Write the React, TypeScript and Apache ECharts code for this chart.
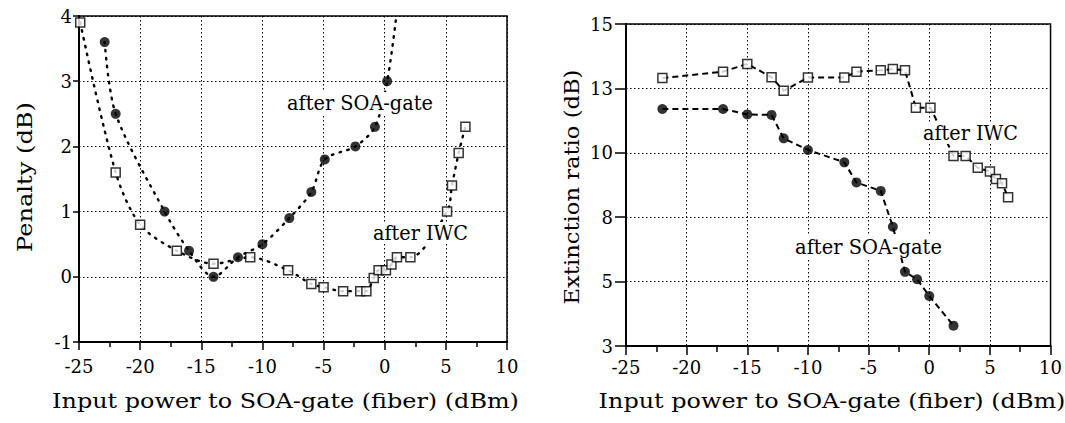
import React, { useEffect, useRef } from "react";
import * as echarts from "echarts";

// ---------- Data ----------
// Left panel: Penalty (dB) vs input power (dBm)
const penSoaX = [-22.9, -22, -18, -16, -14, -12, -10, -7.8, -6, -4.9, -2.4, -0.8, 0.2];
const penSoaY = [3.6, 2.5, 1.0, 0.4, 0.0, 0.3, 0.5, 0.9, 1.3, 1.8, 2.0, 2.3, 3.0];
// dotted fit curve continues past the last point up to the top of the frame
const penSoaTailX = [0.95];
const penSoaTailY = [4.0];

const penIwcX = [-24.9, -22, -20, -17, -14, -11, -7.9, -6, -5, -3.4, -2, -1.5, -0.9, -0.5, 0.1, 0.55, 1.0, 2.1, 5.1, 5.5, 6.05, 6.6];
const penIwcY = [3.9, 1.6, 0.8, 0.4, 0.2, 0.3, 0.1, -0.11, -0.16, -0.22, -0.22, -0.22, -0.02, 0.1, 0.1, 0.19, 0.3, 0.3, 1.0, 1.4, 1.9, 2.3];

// Right panel: Extinction ratio (dB) vs input power (dBm)
const erIwcX = [-22, -17, -15, -13, -12, -10, -7, -6, -4, -3, -2, -1.1, 0.1, 2, 3, 4, 5, 5.5, 6, 6.5];
const erIwcY = [12.9, 13.15, 13.45, 12.93, 12.41, 12.92, 12.92, 13.15, 13.2, 13.25, 13.2, 11.75, 11.75, 9.88, 9.88, 9.42, 9.27, 8.98, 8.82, 8.27];

const erSoaX = [-22, -17, -15, -13, -12, -10, -7, -6, -4, -3, -2, -1, 0, 2];
const erSoaY = [11.7, 11.7, 11.49, 11.47, 10.56, 10.11, 9.63, 8.85, 8.52, 7.13, 5.38, 5.09, 4.44, 3.29];

// Axis settings
const xMin = -25;
const xMax = 10;
const xStep = 5;
const penMin = -1;
const penMax = 4;
const penStep = 1;
const erMin = 2.5;
const erMax = 15;
const erStep = 2.5;

// Texts
const xTitle = "Input power to SOA-gate (fiber) (dBm)";
const penTitle = "Penalty (dB)";
const erTitle = "Extinction ratio (dB)";
const labSoa = "after SOA-gate";
const labIwc = "after IWC";

const FONT = '"DejaVu Serif", serif';

function zip(xs: number[], ys: number[]) {
  return xs.map((x, i) => [x, ys[i]]);
}

function measure(text: string, size: number): number {
  const c = document.createElement("canvas").getContext("2d");
  if (!c) return text.length * size * 0.6;
  c.font = `${size}px "DejaVu Serif"`;
  return c.measureText(text).width;
}

function textEl(
  text: string,
  cx: number,
  cy: number,
  targetW: number,
  size: number,
  opts: { rotate?: boolean; bg?: boolean } = {}
) {
  const w = measure(text, size);
  return {
    type: "text",
    x: cx,
    y: cy,
    z: 100,
    rotation: opts.rotate ? Math.PI / 2 : 0,
    scaleX: targetW / w,
    scaleY: 1,
    style: {
      text,
      fill: "#000",
      fontFamily: FONT,
      fontSize: size,
      align: "center",
      verticalAlign: "middle",
      backgroundColor: opts.bg ? "#fff" : undefined,
      padding: opts.bg ? [1, 2] : 0,
    },
  };
}

export default function App() {
  const ref = useRef<HTMLDivElement>(null);

  useEffect(() => {
    if (!ref.current) return;
    const chart = echarts.init(ref.current, null, { renderer: "svg" });

    const gridLine = { show: true, lineStyle: { color: "#000", width: 1, type: [1.5, 2.5] } };
    const axLine = { show: true, onZero: false, lineStyle: { color: "#000", width: 2 } };
    const lbl = { color: "#000", fontFamily: FONT, fontSize: 18 };

    const makeX = (gridIndex: number, margin: number, tickLen: number, minorLen: number) => ({
      type: "value",
      gridIndex,
      min: xMin,
      max: xMax,
      interval: xStep,
      axisLine: axLine,
      axisTick: { show: true, inside: false, length: tickLen, lineStyle: { color: "#000", width: 1.5 } },
      minorTick: { show: true, splitNumber: 2, length: minorLen, lineStyle: { color: "#000", width: 1.5 } },
      axisLabel: { ...lbl, margin },
      splitLine: gridLine,
    });

    const dotted = { color: "#000", width: 2.4, type: [1.5, 6.5], cap: "round" };
    const dashed = { color: "#000", width: 2, type: [6, 4] };

    const option: any = {
      animation: false,
      backgroundColor: "#fff",
      grid: [
        { left: 79, top: 16, width: 428, height: 326, show: true, borderColor: "#000", borderWidth: 1.5, backgroundColor: "transparent" },
        { left: 626, top: 24, width: 428, height: 322, show: true, borderColor: "#000", borderWidth: 1.5, backgroundColor: "transparent" },
      ],
      xAxis: [makeX(0, 15, 8, 5), makeX(1, 12, 9, 6)],
      yAxis: [
        {
          type: "value",
          gridIndex: 0,
          min: penMin,
          max: penMax,
          interval: penStep,
          axisLine: axLine,
          axisTick: { show: true, inside: false, length: 6, lineStyle: { color: "#000", width: 1.5 } },
          axisLabel: { ...lbl, margin: 7 },
          splitLine: gridLine,
        },
        {
          type: "value",
          gridIndex: 1,
          min: erMin,
          max: erMax,
          interval: erStep,
          axisLine: axLine,
          axisTick: { show: true, inside: false, length: 11, lineStyle: { color: "#000", width: 1.5 } },
          axisLabel: { ...lbl, margin: 13, formatter: (v: number) => String(Math.round(v)) },
          splitLine: gridLine,
        },
      ],
      series: [
        {
          type: "line",
          xAxisIndex: 0,
          yAxisIndex: 0,
          data: zip(penSoaX.concat(penSoaTailX), penSoaY.concat(penSoaTailY)),
          smooth: 0.3,
          symbol: "none",
          lineStyle: dotted,
          z: 3,
        },
        {
          type: "line",
          xAxisIndex: 0,
          yAxisIndex: 0,
          data: zip(penIwcX, penIwcY),
          smooth: 0.3,
          symbol: "none",
          lineStyle: dotted,
          z: 3,
        },
        {
          type: "scatter",
          xAxisIndex: 0,
          yAxisIndex: 0,
          data: zip(penSoaX, penSoaY),
          symbol: "circle",
          symbolSize: 10,
          itemStyle: { color: "#000" },
          z: 5,
        },
        {
          type: "scatter",
          xAxisIndex: 0,
          yAxisIndex: 0,
          data: zip(penIwcX, penIwcY),
          symbol: "rect",
          symbolSize: 9,
          itemStyle: { color: "#fff", borderColor: "#000", borderWidth: 1.5 },
          z: 5,
        },
        {
          type: "line",
          xAxisIndex: 1,
          yAxisIndex: 1,
          data: zip(erIwcX, erIwcY),
          symbol: "none",
          lineStyle: dashed,
          z: 3,
        },
        {
          type: "line",
          xAxisIndex: 1,
          yAxisIndex: 1,
          data: zip(erSoaX, erSoaY),
          symbol: "none",
          lineStyle: dashed,
          z: 3,
        },
        {
          type: "scatter",
          xAxisIndex: 1,
          yAxisIndex: 1,
          data: zip(erSoaX, erSoaY),
          symbol: "circle",
          symbolSize: 10,
          itemStyle: { color: "#000" },
          z: 5,
        },
        {
          type: "scatter",
          xAxisIndex: 1,
          yAxisIndex: 1,
          data: zip(erIwcX, erIwcY),
          symbol: "rect",
          symbolSize: 9,
          itemStyle: { color: "#fff", borderColor: "#000", borderWidth: 1.5 },
          z: 5,
        },
      ],
      graphic: [
        textEl(penTitle, 25, 177, 150, 21, { rotate: true }),
        textEl(erTitle, 572, 187, 235, 21, { rotate: true }),
        textEl(xTitle, 285.5, 401, 467, 21),
        textEl(xTitle, 832, 401, 467, 21),
        textEl(labSoa, 360, 103, 146, 20, { bg: true }),
        textEl(labIwc, 420.5, 233, 95, 20, { bg: true }),
        textEl(labIwc, 970.5, 133, 95, 20, { bg: true }),
        textEl(labSoa, 868.5, 247, 147, 20, { bg: true }),
      ],
    };

    chart.setOption(option);
    return () => chart.dispose();
  }, []);

  return (
    <div
      ref={ref}
      style={{ position: "absolute", left: 0, top: 0, width: 1065, height: 423, background: "#fff" }}
    />
  );
}
